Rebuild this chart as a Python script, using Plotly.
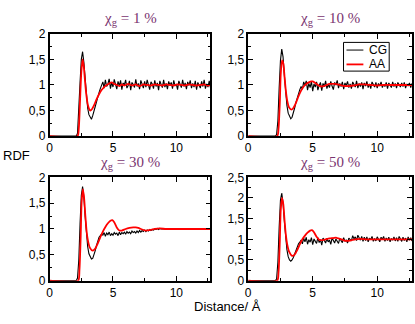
import numpy as np
import plotly.graph_objects as go

# Panel titles (glass fraction)
fractions = ["1 %", "10 %", "30 %", "50 %"]
y_max = [2, 2, 2, 2.5]

# CG curves: on a 0.1 A grid from 2.0 to 12.7 A
r_cg = [0.0] + list(np.round(np.arange(2.0, 12.75, 0.1), 1))

cg_1 = [0.0,
        0.00, 0.00, 0.06, 0.45, 1.05, 1.50, 1.65, 1.45, 1.10, 0.78,
        0.55, 0.42, 0.36, 0.33, 0.40, 0.47, 0.58, 0.67, 0.78, 0.85,
        0.93, 0.99, 1.06, 0.94, 1.10, 0.97, 1.02, 1.12, 0.93, 1.05,
        0.96, 1.11, 1.01, 0.92, 1.07, 0.98, 1.09, 0.91, 1.04, 1.00,
        1.10, 0.94, 0.99, 1.08, 0.90, 1.05, 1.01, 0.95, 1.11, 0.97,
        1.03, 0.92, 1.09, 1.00, 0.94, 1.07, 0.96, 1.10, 0.99, 0.91,
        1.06, 1.02, 0.93, 1.09, 0.97, 1.04, 0.90, 1.08, 1.01, 0.95,
        1.10, 0.96, 1.03, 0.92, 1.07, 0.99, 1.05, 0.93, 1.09, 0.98,
        1.02, 0.91, 1.08, 1.00, 0.95, 1.10, 0.97, 1.04, 0.92, 1.06,
        0.99, 1.09, 0.94, 1.03, 0.96, 1.08, 0.91, 1.05, 1.00, 0.94,
        1.07, 0.97, 1.10, 0.93, 1.02, 0.96, 1.08, 0.95]

cg_10 = [0.0,
         0.00, 0.00, 0.03, 0.30, 0.95, 1.48, 1.70, 1.55, 1.20, 0.85,
         0.60, 0.45, 0.38, 0.34, 0.37, 0.44, 0.55, 0.66, 0.76, 0.85,
         0.91, 0.97, 0.92, 1.06, 0.99, 1.08, 0.90, 1.03, 0.95, 1.07,
         0.88, 1.02, 0.96, 1.06, 0.90, 0.99, 1.05, 0.89, 1.03, 0.97,
         1.08, 0.93, 1.01, 0.95, 1.07, 0.98, 0.91, 1.05, 1.00, 1.09,
         0.94, 1.03, 0.97, 1.06, 0.92, 1.04, 0.99, 1.07, 0.95, 1.02,
         0.93, 1.06, 1.00, 0.96, 1.08, 0.94, 1.03, 0.97, 1.05, 0.92,
         1.04, 0.98, 1.07, 0.95, 1.02, 0.93, 1.06, 1.00, 0.96, 1.05,
         0.94, 1.03, 0.98, 1.06, 0.95, 1.01, 0.97, 1.05, 0.93, 1.04,
         0.99, 0.95, 1.06, 0.97, 1.03, 0.94, 1.05, 1.00, 0.96, 1.04,
         0.97, 1.05, 0.94, 1.02, 0.98, 1.04, 0.95, 1.03]

cg_30 = [0.0,
         0.00, 0.00, 0.05, 0.40, 1.10, 1.65, 1.82, 1.62, 1.25, 0.90,
         0.66, 0.52, 0.45, 0.42, 0.43, 0.49, 0.58, 0.68, 0.77, 0.84,
         0.87, 0.90, 0.88, 0.93, 0.86, 0.92, 0.89, 0.94, 0.87, 0.91,
         0.88, 0.93, 0.90, 0.92, 0.87, 0.94, 0.89, 0.93, 0.91, 0.94,
         0.90, 0.95, 0.92, 0.94, 0.91, 0.96, 0.93, 0.95, 0.92, 0.96,
         0.93, 0.97, 0.94, 0.97, 0.95, 0.98, 0.95, 0.98, 0.96, 0.99,
         0.97, 0.99, 0.98, 1.00, 0.99, 1.01, 0.99, 1.01, 1.00, 1.00,
         1.01, 1.00, 1.00, 1.01, 1.00, 1.00, 1.01, 1.00, 1.00, 1.00,
         1.00, 1.01, 1.00, 1.00, 1.01, 1.00, 1.00, 1.00, 1.01, 1.00,
         1.00, 1.01, 1.00, 1.00, 1.00, 1.01, 1.00, 1.00, 1.01, 1.00,
         1.00, 1.00, 1.01, 1.00, 1.00, 1.01, 1.00, 1.00]

cg_50 = [0.0,
         0.00, 0.00, 0.04, 0.45, 1.30, 1.95, 2.12, 1.88, 1.45, 1.02,
         0.75, 0.58, 0.50, 0.47, 0.50, 0.56, 0.65, 0.74, 0.83, 0.89,
         0.93, 0.98, 0.89, 1.03, 0.94, 1.05, 0.88, 0.99, 0.93, 1.04,
         0.87, 1.01, 0.95, 0.90, 1.04, 0.92, 0.99, 0.86, 1.03, 0.96,
         0.91, 1.02, 0.94, 0.98, 0.88, 1.03, 0.95, 0.91, 1.01, 0.96,
         0.90, 1.02, 0.97, 0.92, 1.04, 0.95, 0.99, 0.91, 1.03, 1.00,
         0.96, 1.09, 1.01, 1.06, 0.97, 1.10, 1.02, 0.98, 1.07, 0.95,
         1.05, 0.97, 1.06, 0.94, 1.03, 0.99, 1.07, 0.95, 1.02, 0.96,
         1.06, 0.98, 0.94, 1.05, 1.00, 1.07, 0.95, 1.03, 0.97, 1.05,
         0.94, 1.02, 0.98, 1.06, 0.96, 1.04, 0.95, 1.07, 0.99, 0.95,
         1.05, 0.97, 1.03, 0.94, 1.06, 0.98, 1.04, 0.96]

# AA curves (smooth)
r_aa_1 = [0, 2.2, 2.3, 2.4, 2.5, 2.6, 2.7, 2.8, 2.9, 3.0, 3.1, 3.2, 3.35, 3.5,
          3.7, 3.9, 4.1, 4.3, 4.5, 4.7, 4.9, 5.1, 5.3, 5.5, 5.7, 5.9, 6.2, 6.5,
          6.8, 7.1, 7.4, 7.7, 8.0, 8.3, 8.6, 8.9, 9.2, 9.5, 9.8, 10.1, 10.4,
          10.7, 11.0, 11.3, 11.6, 11.9, 12.2, 12.5, 12.7]
aa_1 = [0, 0, 0.15, 0.7, 1.25, 1.5, 1.35, 1.05, 0.8, 0.63, 0.54, 0.5, 0.53, 0.6,
        0.72, 0.82, 0.9, 0.96, 1.0, 1.03, 1.05, 1.02, 1.0, 0.98, 1.01, 0.99,
        1.02, 0.99, 1.01, 0.98, 1.01, 1.0, 0.99, 1.01, 1.0, 0.99, 1.01, 1.0,
        0.99, 1.01, 1.0, 0.99, 1.01, 1.0, 0.99, 1.0, 1.01, 0.99, 1.0]

r_aa_10 = [0, 2.25, 2.35, 2.45, 2.52, 2.62, 2.72, 2.82, 2.92, 3.02, 3.17, 3.35,
           3.5, 3.7, 3.9, 4.1, 4.3, 4.5, 4.7, 4.9, 5.0, 5.2, 5.4, 5.7, 6.0, 6.3,
           6.7, 7.1, 7.5, 7.8, 8.2, 8.6, 9.0, 9.5, 10.0, 10.5, 11.0, 11.5, 12.0,
           12.7]
aa_10 = [0, 0, 0.15, 0.65, 1.2, 1.48, 1.42, 1.15, 0.88, 0.7, 0.56, 0.52, 0.55,
         0.65, 0.78, 0.89, 0.97, 1.02, 1.05, 1.07, 1.07, 1.04, 1.0, 0.97, 0.99,
         1.02, 1.02, 1.0, 0.98, 0.98, 0.99, 1.01, 1.01, 1.0, 0.99, 1.0, 1.0,
         1.0, 1.0, 1.0]

r_aa_30 = [0, 2.25, 2.35, 2.45, 2.52, 2.62, 2.72, 2.82, 2.92, 3.02, 3.17, 3.4,
           3.6, 3.8, 4.0, 4.2, 4.4, 4.6, 4.8, 4.95, 5.1, 5.3, 5.5, 5.7, 6.0,
           6.3, 6.6, 6.8, 7.0, 7.3, 7.6, 7.9, 8.3, 8.7, 9.2, 10.0, 11.0, 12.0,
           12.7]
aa_30 = [0, 0, 0.2, 0.85, 1.5, 1.77, 1.6, 1.25, 0.95, 0.78, 0.64, 0.58, 0.62,
         0.72, 0.84, 0.95, 1.04, 1.11, 1.16, 1.17, 1.13, 1.03, 0.97, 0.97, 1.0,
         1.02, 1.03, 1.03, 1.02, 0.99, 0.97, 0.98, 1.0, 1.01, 1.0, 1.0, 1.0,
         1.0, 1.0]

r_aa_50 = r_aa_30
aa_50 = [0, 0, 0.2, 0.95, 1.7, 2.0, 1.85, 1.45, 1.1, 0.88, 0.7, 0.6, 0.63, 0.74,
         0.88, 1.0, 1.09, 1.16, 1.21, 1.22, 1.17, 1.06, 0.99, 0.98, 1.0, 1.02,
         1.03, 1.04, 1.02, 0.99, 0.96, 0.97, 1.0, 1.01, 1.0, 1.0, 1.0, 1.0, 1.0]

cg_all = [cg_1, cg_10, cg_30, cg_50]
aa_all = [(r_aa_1, aa_1), (r_aa_10, aa_10), (r_aa_30, aa_30), (r_aa_50, aa_50)]

W, H = 415, 324


def px(x):
    return x / W


def py(y):
    return 1 - y / H


# pixel boxes of the four panels (left, right, top, bottom)
boxes = [(47, 209, 28, 135), (247, 412, 28, 135),
         (47, 209, 178, 286), (247, 412, 178, 286)]

fig = go.Figure()
tick_font = dict(family="Liberation Sans", size=12, color="black")

for i in range(4):
    xa = "x" if i == 0 else f"x{i + 1}"
    ya = "y" if i == 0 else f"y{i + 1}"
    fig.add_trace(go.Scatter(x=r_cg, y=cg_all[i], mode="lines", name="CG",
                             line=dict(color="black", width=1.1),
                             showlegend=False, xaxis=xa, yaxis=ya))
    fig.add_trace(go.Scatter(x=aa_all[i][0], y=aa_all[i][1], mode="lines", name="AA",
                             line=dict(color="red", width=1.8, shape="spline", smoothing=0.6),
                             showlegend=False, xaxis=xa, yaxis=ya))

    l, r, t, b = boxes[i]
    sfx = "" if i == 0 else str(i + 1)
    fig.layout["xaxis" + sfx] = dict(
        domain=[px(l), px(r)], anchor=ya, range=[0, 12.7], tick0=0, dtick=5,
        ticks="inside", ticklen=5, tickwidth=1, tickcolor="black",
        minor=dict(dtick=2.5, ticks="inside", ticklen=3, tickcolor="black"),
        showline=True, linecolor="black", linewidth=1.5, mirror="allticks",
        showgrid=False, zeroline=False, tickfont=tick_font)
    fig.layout["yaxis" + sfx] = dict(
        domain=[py(b), py(t)], anchor=xa, range=[0, y_max[i]], tick0=0, dtick=0.5,
        ticks="inside", ticklen=5, tickwidth=1, tickcolor="black",
        minor=dict(dtick=0.25, ticks="inside", ticklen=3, tickcolor="black"),
        showline=True, linecolor="black", linewidth=1.5, mirror="allticks",
        showgrid=False, zeroline=False, tickfont=tick_font)

    fig.add_annotation(text=f"χ<sub>g</sub> = {fractions[i]}", xref="paper", yref="paper",
                       x=px((l + r) / 2), y=py(t - 15), xanchor="center", yanchor="middle",
                       showarrow=False,
                       font=dict(family="Liberation Serif", size=15, color="#7A3470"))

fig.add_annotation(text="RDF", xref="paper", yref="paper", x=px(14), y=py(155),
                   xanchor="center", yanchor="middle", showarrow=False,
                   font=dict(family="Liberation Sans", size=13, color="black"))
fig.add_annotation(text="Distance/ Å", xref="paper", yref="paper", x=px(226), y=py(313),
                   xanchor="center", yanchor="middle", showarrow=False,
                   font=dict(family="Liberation Sans", size=13, color="black"))

# legend box inside the 10 % panel
fig.add_shape(type="rect", xref="paper", yref="paper", x0=px(343), x1=px(389),
              y0=py(67), y1=py(37), line=dict(color="black", width=1), fillcolor="white")
for name, color, yy in [("CG", "black", 45), ("AA", "red", 60)]:
    fig.add_shape(type="line", xref="paper", yref="paper", x0=px(346), x1=px(363),
                  y0=py(yy), y1=py(yy), line=dict(color=color, width=1 if color == "black" else 1.8))
    fig.add_annotation(text=name, xref="paper", yref="paper", x=px(367), y=py(yy),
                       xanchor="left", yanchor="middle", showarrow=False,
                       font=dict(family="Liberation Sans", size=12, color="black"))

fig.update_layout(
    width=W, height=H, margin=dict(l=0, r=0, t=0, b=0),
    paper_bgcolor="white", plot_bgcolor="white", separators=", ",
)

# no page margin, so the 415x324 figure fills the window exactly
fig.write_html("out.html", config={"displayModeBar": False},
               post_script="document.body.style.margin = '0';")
